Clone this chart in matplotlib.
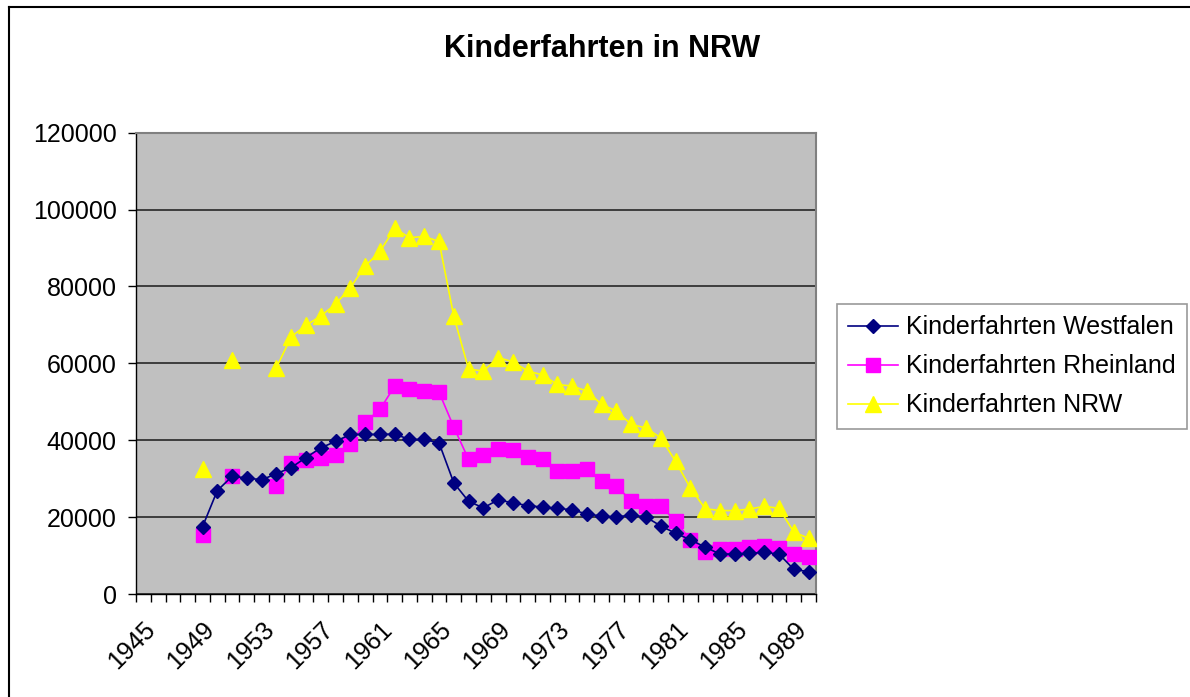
import numpy as np
import matplotlib
matplotlib.use('Agg')
import matplotlib.pyplot as plt
from matplotlib.lines import Line2D

nan = np.nan

# years on the category axis
years = list(range(1945, 1991))

# values from 1949 on (earlier years empty)
westfalen = [17500, 26900, 30600, 30200, 29700, 31300, 32900, 35500, 38000, 39700,
             41500, 41500, 41500, 41600, 40200, 40200, 39300, 28900, 24100, 22400,
             24500, 23700, 23000, 22600, 22300, 21900, 20800, 20300, 20000, 20600,
             20000, 17700, 15800, 14100, 12200, 10400, 10400, 10600, 10800, 10400,
             6400, 5800]
rheinland = [15400, nan, 30800, nan, nan, 28200, 34100, 34900, 35400, 36100,
             38900, 44700, 48000, 54100, 53200, 52800, 52500, 43400, 35000, 36100,
             37800, 37400, 35700, 35000, 32100, 32100, 32500, 29300, 28000, 24300,
             23000, 23000, 18900, 14100, 10900, 11700, 11700, 12200, 12500, 11900,
             10400, 9600]
nrw = [32400, nan, 60800, nan, nan, 58900, 66900, 69900, 72300, 75400,
       79700, 85300, 89100, 95100, 92700, 93000, 91700, 72200, 58500, 58000,
       61500, 60400, 58000, 57000, 54500, 54100, 52800, 49300, 47600, 44100,
       43200, 40600, 34500, 27600, 22200, 21700, 21700, 22100, 22800, 22300,
       16100, 14500]

first_year = 1949
series_names = ['Kinderfahrten Westfalen', 'Kinderfahrten Rheinland', 'Kinderfahrten NRW']

plt.rcParams['font.family'] = ['Liberation Sans', 'DejaVu Sans']

fig = plt.figure(figsize=(11.9, 6.97), dpi=100)
W, H = 1190, 697
ax = fig.add_axes([136 / W, 1 - 594 / H, (816 - 136) / W, (594 - 132.7) / H])
ax.set_facecolor('#C0C0C0')

x0 = years.index(first_year)
xs = np.arange(x0, x0 + len(westfalen))

ax.plot(xs, westfalen, color='#000080', lw=1.2, marker='D', ms=7.4,
        markerfacecolor='#000080', markeredgecolor='#000080', label=series_names[0], zorder=5)
ax.plot(xs, rheinland, color='#FF00FF', lw=1.2, marker='s', ms=9.4,
        markerfacecolor='#FF00FF', markeredgecolor='#FF00FF', label=series_names[1], zorder=4)
ax.plot(xs, nrw, color='#FFFF00', lw=1.2, marker='^', ms=11,
        markerfacecolor='#FFFF00', markeredgecolor='#FFFF00', label=series_names[2], zorder=3)

ax.set_xlim(-0.5, len(years) - 0.5)
ax.set_ylim(0, 120000)
ax.set_yticks(range(0, 120001, 20000))
ax.yaxis.grid(True, color='#333333', lw=1.3)
ax.set_axisbelow(True)
ax.tick_params(axis='y', labelsize=18, length=6, width=1, pad=8, colors='black', direction='out')

# x axis: tick marks between categories, labels every 4th year
ax.set_xticks(np.arange(-0.5, len(years), 1.0), minor=True)
ax.set_xticks(np.arange(0, len(years), 4))
ax.set_xticklabels([str(y) for y in years[::4]], rotation=45, ha='right',
                   va='top', rotation_mode='anchor')
ax.tick_params(axis='x', which='major', length=0, labelsize=18, pad=17)
ax.tick_params(axis='x', which='minor', length=6, width=1, direction='out')

for s in ['top', 'right']:
    ax.spines[s].set_color('#808080')
    ax.spines[s].set_linewidth(1.5)
for s in ['left', 'bottom']:
    ax.spines[s].set_color('black')
    ax.spines[s].set_linewidth(1)

fig.text(602 / W, 1 - 49 / H, 'Kinderfahrten in NRW', ha='center', va='center',
         fontsize=22, fontweight='bold')

leg = fig.legend(loc='upper left', bbox_to_anchor=(837 / W, 1 - 304 / H),
                 borderaxespad=0, fontsize=18, frameon=True, fancybox=False,
                 edgecolor='#808080', handlelength=2.0, labelspacing=0.6,
                 handletextpad=0.3, borderpad=0.45)
leg.get_frame().set_linewidth(1.2)

# chart border
fig.add_artist(Line2D([8.5 / W, 8.5 / W], [0, 1 - 7 / H], transform=fig.transFigure,
                      color='black', lw=1.5))
fig.add_artist(Line2D([8.5 / W, 1], [1 - 7 / H, 1 - 7 / H], transform=fig.transFigure,
                      color='black', lw=1.5))

fig.savefig('out.png', dpi=100, facecolor='white')
